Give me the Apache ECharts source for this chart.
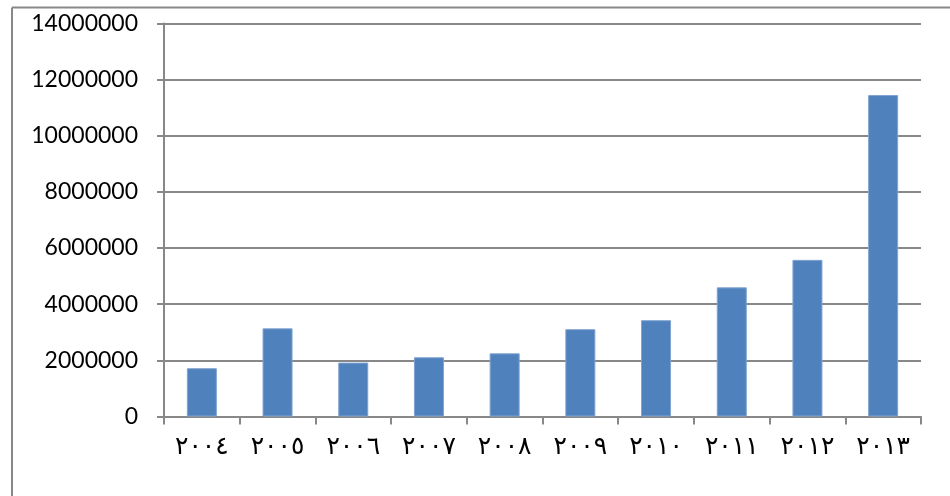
<!DOCTYPE html>
<html>
<head>
<meta charset="utf-8">
<script src="https://cdn.jsdelivr.net/npm/echarts@6/dist/echarts.min.js"></script>
<style>
  html, body { margin: 0; padding: 0; background: #fff; }
  #barChart { width: 950px; height: 496px; }
</style>
</head>
<body>
<div id="barChart"></div>
<script>
// years in Arabic-Indic digits, as on the original
const years = ['٢٠٠٤', '٢٠٠٥', '٢٠٠٦', '٢٠٠٧', '٢٠٠٨', '٢٠٠٩', '٢٠١٠', '٢٠١١', '٢٠١٢', '٢٠١٣'];
const values = [1720000, 3140000, 1920000, 2110000, 2250000, 3110000, 3430000, 4600000, 5580000, 11450000];
const yMin = 0;
const yMax = 14000000;
const yStep = 2000000;

const axisGray = '#888888';

let barChart = echarts.init(document.getElementById('barChart'));
barChart.setOption({
  backgroundColor: '#fff',
  animation: false,
  grid: {
    left: 164,
    right: 29,
    top: 23.5,
    bottom: 79.5
  },
  // outer frame (only left and top edges show in the picture)
  graphic: [
    { type: 'line', shape: { x1: 12, y1: 7.5, x2: 950, y2: 7.5 }, style: { stroke: axisGray, lineWidth: 2 } },
    { type: 'line', shape: { x1: 12, y1: 7.5, x2: 12, y2: 496 }, style: { stroke: axisGray, lineWidth: 2 } }
  ],
  xAxis: {
    type: 'category',
    data: years,
    axisLine: { lineStyle: { color: axisGray, width: 2 } },
    axisTick: { show: true, length: 8, lineStyle: { color: axisGray, width: 2 } },
    axisLabel: {
      color: '#000',
      fontFamily: 'DejaVu Sans',
      fontSize: 25,
      margin: 18
    }
  },
  yAxis: {
    type: 'value',
    min: yMin,
    max: yMax,
    interval: yStep,
    axisLine: { show: true, lineStyle: { color: axisGray, width: 2 } },
    axisTick: { show: true, length: 7, lineStyle: { color: axisGray, width: 2 } },
    splitLine: { lineStyle: { color: axisGray, width: 2 } },
    axisLabel: {
      color: '#000',
      fontFamily: 'Lato',
      fontSize: 23,
      margin: 26,
      formatter: function (v) { return String(v); }
    }
  },
  series: [{
    type: 'bar',
    data: values,
    barWidth: 30,
    itemStyle: {
      color: '#4F81BD',
      borderColor: '#7FA3D0',
      borderWidth: 1
    }
  }]
});
</script>
</body>
</html>
